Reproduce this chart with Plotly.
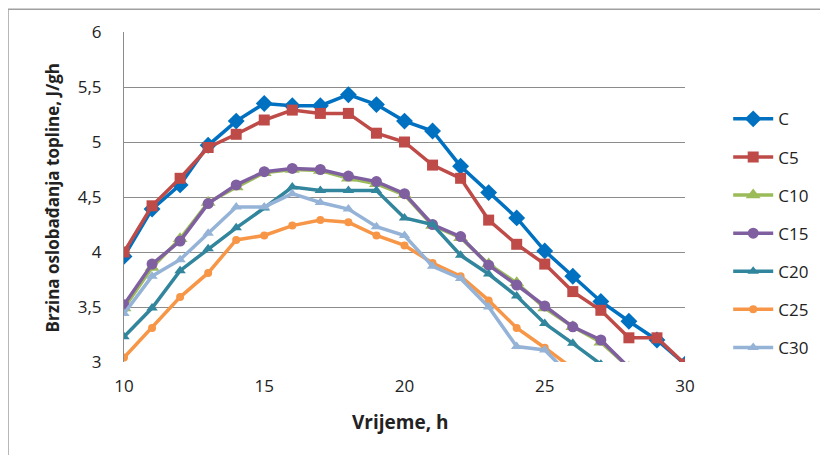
import plotly.graph_objects as go

hours = list(range(10, 31))

C   = [3.96, 4.39, 4.61, 4.97, 5.19, 5.35, 5.33, 5.33, 5.43, 5.34, 5.19, 5.10, 4.78, 4.54, 4.31, 4.01, 3.78, 3.55, 3.37, 3.20, 2.98]
C5  = [4.00, 4.42, 4.67, 4.95, 5.07, 5.20, 5.29, 5.26, 5.26, 5.08, 5.00, 4.79, 4.67, 4.29, 4.07, 3.89, 3.64, 3.47, 3.22, 3.22, 2.98]
C10 = [3.49, 3.86, 4.12, 4.45, 4.59, 4.72, 4.75, 4.74, 4.67, 4.62, 4.52, 4.24, 4.13, 3.89, 3.72, 3.49, 3.32, 3.18, 2.95]
C15 = [3.52, 3.89, 4.10, 4.44, 4.61, 4.73, 4.76, 4.75, 4.69, 4.64, 4.53, 4.25, 4.14, 3.88, 3.70, 3.51, 3.32, 3.20, 2.95]
C20 = [3.23, 3.49, 3.83, 4.03, 4.22, 4.40, 4.59, 4.56, 4.56, 4.56, 4.31, 4.25, 3.97, 3.80, 3.60, 3.35, 3.17, 2.98]
C25 = [3.04, 3.31, 3.59, 3.81, 4.11, 4.15, 4.24, 4.29, 4.27, 4.15, 4.06, 3.90, 3.78, 3.56, 3.31, 3.13, 2.94]
C30 = [3.44, 3.78, 3.93, 4.17, 4.41, 4.41, 4.53, 4.45, 4.39, 4.23, 4.15, 3.87, 3.76, 3.50, 3.14, 3.11, 2.85]

y_ticks = [3, 3.5, 4, 4.5, 5, 5.5, 6]
x_ticks = [10, 15, 20, 25, 30]

series = [
    ("C",   C,   "#0070C0", "diamond",     13),
    ("C5",  C5,  "#BE4B48", "square",      11),
    ("C10", C10, "#9BBB59", "triangle-up", 13),
    ("C15", C15, "#7F5FA0", "circle",      11),
    ("C20", C20, "#31859C", "triangle-up", 10),
    ("C25", C25, "#F79646", "circle",      8),
    ("C30", C30, "#95B3D7", "triangle-up", 10),
]

fig = go.Figure()
for i, (name, vals, col, sym, sz) in enumerate(series):
    fig.add_trace(go.Scatter(
        x=hours[:len(vals)], y=vals, name=name, mode="lines+markers",
        line=dict(color=col, width=3.5),
        marker=dict(symbol=sym, size=sz, color=col),
        legendgroup=f"g{i}",
    ))

# plot area in page pixels: x 124..685, y 29..362 (page has 8px body offset)
L, R, T, B = 124, 685, 29, 362
W, H = R - L, B - T
OFF = 8

def px(xp):
    return (xp - L) / W

def py(yp):
    return (B - yp) / H

font_family = "Open Sans, Liberation Sans, sans-serif"
fig.update_layout(
    width=828, height=455,
    margin=dict(l=L - OFF, r=828 - R + OFF, t=T - OFF, b=455 - B + OFF),
    paper_bgcolor="white", plot_bgcolor="white",
    separators=", ",
    font=dict(family=font_family, size=17, color="#222"),
    showlegend=True,
    legend=dict(x=1.077, xanchor="left", y=0.39, yanchor="middle",
                font=dict(size=17, color="#222"), tracegroupgap=13,
                traceorder="grouped", itemwidth=40, bgcolor="rgba(0,0,0,0)"),
    xaxis=dict(range=[10, 30], tickvals=x_ticks, showgrid=False, zeroline=False,
               showline=False, ticks="", tickfont=dict(size=17), ticklabelstandoff=12),
    yaxis=dict(range=[3, 6], tickvals=y_ticks, showgrid=True, gridcolor="#8C8C8C",
               gridwidth=1, zeroline=False, showline=True, linecolor="#8C8C8C",
               ticks="", tickfont=dict(size=17), ticklabelstandoff=18),
    annotations=[
        dict(text="<b>Vrijeme, h</b>", xref="paper", yref="paper",
             x=px(400), y=py(423), showarrow=False,
             xanchor="center", yanchor="middle", font=dict(size=19, color="#222")),
        dict(text="<b>Brzina oslobađanja topline, J/gh</b>", xref="paper", yref="paper",
             x=px(52), y=py(196), showarrow=False, textangle=-90,
             xanchor="center", yanchor="middle", font=dict(size=17, color="#222")),
    ],
    shapes=[
        dict(type="rect", xref="paper", yref="paper",
             x0=px(8), x1=px(840), y0=py(470), y1=py(6),
             line=dict(color="#A0A0A0", width=1.5), layer="below"),
    ],
)

fig.write_html("out.html")
